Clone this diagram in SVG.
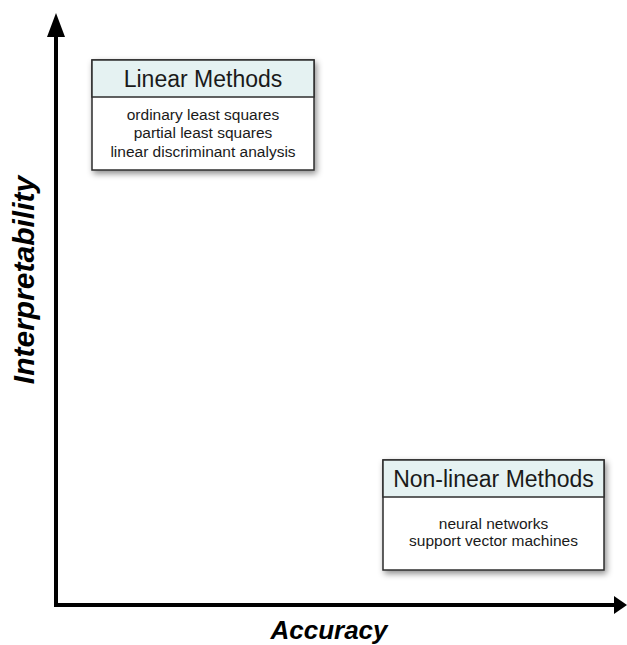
<svg xmlns="http://www.w3.org/2000/svg" width="627" height="645" viewBox="0 0 627 645">
  <defs>
    <filter id="shadow" x="-10%" y="-10%" width="125%" height="130%">
      <feDropShadow dx="2" dy="3" stdDeviation="3" flood-color="#000" flood-opacity="0.45"/>
    </filter>
  </defs>
  <style>
    .box { fill: #ffffff; stroke: #2e2e2e; stroke-width: 1.5; }
    .head { fill: #e5f2f2; stroke: #2e2e2e; stroke-width: 1.5; }
    .title { font-family: "Liberation Sans", Arial, sans-serif; font-size: 23px; fill: #1a1a1a; text-anchor: middle; }
    .item { font-family: "Liberation Sans", Arial, sans-serif; font-size: 15.5px; fill: #1a1a1a; text-anchor: middle; }
    .axis { stroke: #000; stroke-width: 4; fill: none; }
    .head-arrow { fill: #000; }
    .label { font-family: "Liberation Sans", Arial, sans-serif; font-weight: bold; font-style: italic; fill: #000; text-anchor: middle; }
  </style>

  <!-- axes -->
  <g id="connectors">
    <path class="axis" d="M56,36 V605 H614"/>
    <polygon class="head-arrow" points="56,13 47,37 65,37"/>
    <polygon class="head-arrow" points="627,605 614,596 614,614"/>
  </g>

  <!-- axis titles -->
  <text class="label" font-size="30" transform="translate(34,280) rotate(-90)">Interpretability</text>
  <text class="label" font-size="26" x="329" y="639">Accuracy</text>

  <!-- Linear Methods -->
  <g id="linear-methods">
    <g filter="url(#shadow)">
      <rect class="box" x="92" y="60" width="222" height="110"/>
    </g>
    <rect class="head" x="92" y="60" width="222" height="37"/>
    <text class="title" x="203" y="87">Linear Methods</text>
    <text class="item" x="203" y="120">ordinary least squares</text>
    <text class="item" x="203" y="138">partial least squares</text>
    <text class="item" x="203" y="156.5">linear discriminant analysis</text>
  </g>

  <!-- Non-linear Methods -->
  <g id="nonlinear-methods">
    <g filter="url(#shadow)">
      <rect class="box" x="383" y="460" width="221" height="110"/>
    </g>
    <rect class="head" x="383" y="460" width="221" height="37"/>
    <text class="title" x="493.5" y="487">Non-linear Methods</text>
    <text class="item" x="493.5" y="529">neural networks</text>
    <text class="item" x="493.5" y="546">support vector machines</text>
  </g>
</svg>
